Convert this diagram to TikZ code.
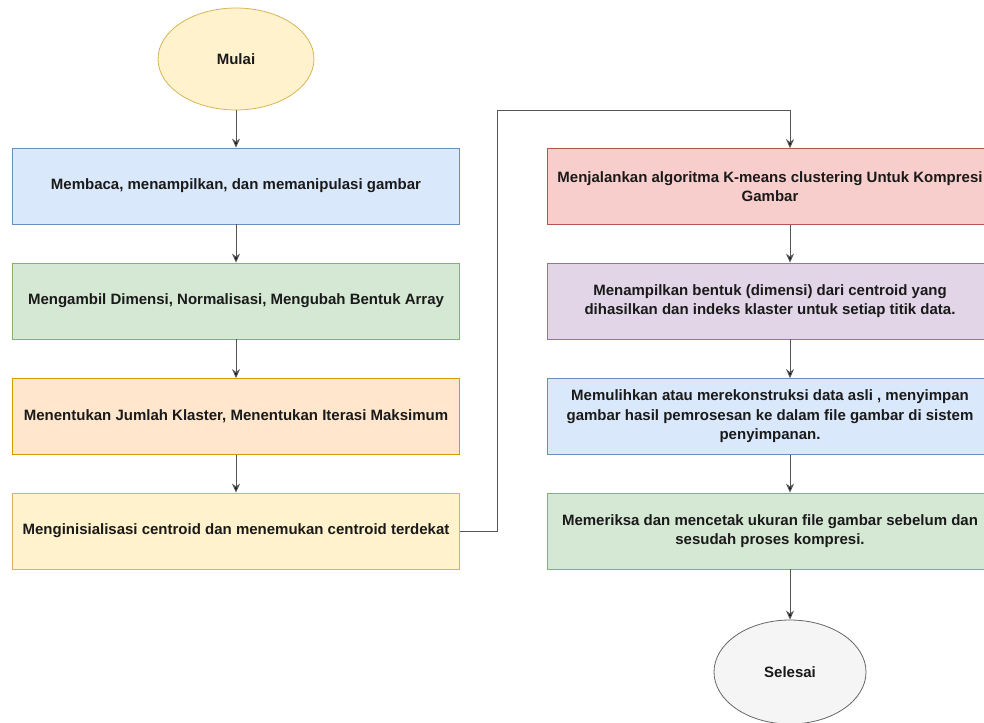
\documentclass[tikz,border=0pt]{standalone}
\usepackage{fontspec}
\setmainfont{Liberation Sans}
\usetikzlibrary{shapes.geometric,arrows.meta}
\definecolor{yelF}{HTML}{FFF2CC}\definecolor{yelD}{HTML}{D6B656}
\definecolor{bluF}{HTML}{DAE8FC}\definecolor{bluD}{HTML}{6C8EBF}
\definecolor{grnF}{HTML}{D5E8D4}\definecolor{grnD}{HTML}{82B366}
\definecolor{orgF}{HTML}{FFE6CC}\definecolor{orgD}{HTML}{D79B00}
\definecolor{redF}{HTML}{F8CECC}\definecolor{redD}{HTML}{B85450}
\definecolor{purF}{HTML}{E1D5E7}\definecolor{purD}{HTML}{9673A6}
\definecolor{gryF}{HTML}{F5F5F5}\definecolor{gryD}{HTML}{666666}
\definecolor{txt}{HTML}{1A1A1A}
\definecolor{lin}{HTML}{555555}
\begin{document}
\begin{tikzpicture}[x=1pt,y=-1pt,
  every node/.style={text=txt, font=\bfseries\fontsize{15}{19.5}\selectfont, align=center, inner sep=0pt},
  lbox/.style={rectangle, draw, line width=0.8pt, minimum width=447pt, minimum height=76pt},
  rbox/.style={rectangle, draw, line width=0.8pt, minimum width=446pt, minimum height=76pt},
  term/.style={ellipse, draw, line width=0.8pt},
  conn/.style={draw=lin, line width=1pt, -{Stealth[length=9pt,width=8pt,fill=black]}}
]
\useasboundingbox (0,0) rectangle (984,722);
\clip (0,0) rectangle (984,722);
\node[term, fill=yelF, draw=yelD, minimum width=156pt, minimum height=102pt] (mulai) at (236,59) {Mulai};
\node[lbox, fill=bluF, draw=bluD] (l1) at (236,186) {Membaca, menampilkan, dan memanipulasi gambar};
\node[lbox, fill=grnF, draw=grnD] (l2) at (236,301) {Mengambil Dimensi, Normalisasi, Mengubah Bentuk Array};
\node[lbox, fill=orgF, draw=orgD] (l3) at (236,416.5) {Menentukan Jumlah Klaster, Menentukan Iterasi Maksimum};
\node[lbox, fill=yelF, draw=yelD] (l4) at (236,531) {Menginisialisasi centroid dan menemukan centroid terdekat};

\node[rbox, fill=redF, draw=redD] (r1) at (770,186.5) {Menjalankan algoritma K-means clustering Untuk Kompresi\\Gambar};
\node[rbox, fill=purF, draw=purD] (r2) at (770,301) {Menampilkan bentuk (dimensi) dari centroid yang\\dihasilkan dan indeks klaster untuk setiap titik data.};
\node[rbox, fill=bluF, draw=bluD] (r3) at (770,416.5) {Memulihkan atau merekonstruksi data asli , menyimpan\\gambar hasil pemrosesan ke dalam file gambar di sistem\\penyimpanan.};
\node[rbox, fill=grnF, draw=grnD] (r4) at (770,531) {Memeriksa dan mencetak ukuran file gambar sebelum dan\\sesudah proses kompresi.};
\node[term, fill=gryF, draw=gryD, minimum width=152pt, minimum height=104pt] (selesai) at (790,672) {Selesai};

\coordinate (turn) at (497,111);
\draw[conn] (mulai) -- (l1);
\draw[conn] (l1) -- (l2);
\draw[conn] (l2) -- (l3);
\draw[conn] (l3) -- (l4);
\draw[conn] (l4.east) -| (turn) -| ([xshift=20pt]r1.north);
\draw[conn] ([xshift=20pt]r1.south) -- ([xshift=20pt]r2.north);
\draw[conn] ([xshift=20pt]r2.south) -- ([xshift=20pt]r3.north);
\draw[conn] ([xshift=20pt]r3.south) -- ([xshift=20pt]r4.north);
\draw[conn] ([xshift=20pt]r4.south) -- (selesai);
\end{tikzpicture}
\end{document}
